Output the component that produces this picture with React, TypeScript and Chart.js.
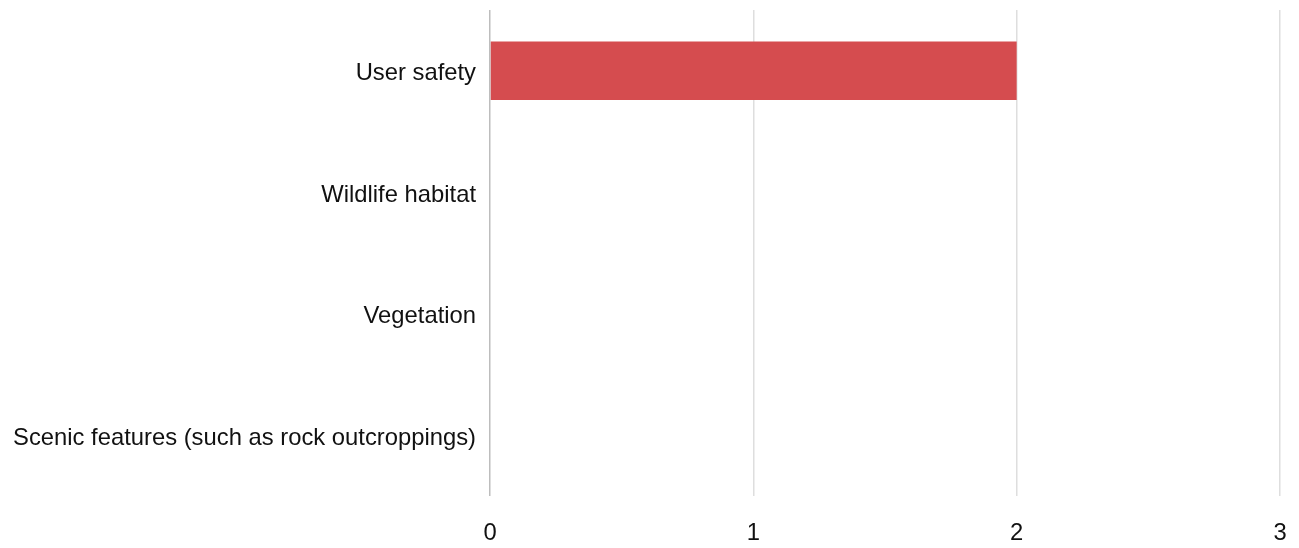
import React, { useEffect, useRef } from "react";
import { Chart, registerables } from "chart.js";

Chart.register(...registerables);

const categories = [
  "User safety",
  "Wildlife habitat",
  "Vegetation",
  "Scenic features (such as rock outcroppings)",
];
const values = [2, 0, 0, 0];
const xTicks = [0, 1, 2, 3];

export default function App() {
  const ref = useRef<HTMLCanvasElement | null>(null);
  useEffect(() => {
    if (!ref.current) return;
    const font = { family: "'Liberation Sans', Arial, sans-serif", size: 23.8 };
    const chart = new Chart(ref.current, {
      type: "bar",
      data: {
        labels: categories,
        datasets: [
          {
            data: values,
            backgroundColor: "#d54c4f",
            borderWidth: 0,
            categoryPercentage: 0.8,
            barPercentage: 0.6,
          },
        ],
      },
      options: {
        indexAxis: "y",
        animation: false,
        responsive: true,
        maintainAspectRatio: false,
        layout: { padding: { top: 10, right: 19, left: 0, bottom: 0 } },
        plugins: { legend: { display: false }, tooltip: { enabled: false } },
        scales: {
          x: {
            min: 0,
            max: 3,
            afterBuildTicks: (axis: any) => {
              axis.ticks = xTicks.map((v) => ({ value: v }));
            },
            afterFit: (axis: any) => {
              axis.height = 52;
              axis.paddingLeft = 0;
              axis.paddingRight = 0;
            },
            grid: {
              drawTicks: false,
              color: (ctx: any) => (ctx.tick && ctx.tick.value === 0 ? "#bdbdbd" : "#dedede"),
              lineWidth: 1.5,
            },
            border: { display: false },
            ticks: { color: "#111", font, padding: 23 },
          },
          y: {
            afterFit: (axis: any) => {
              axis.width = 490;
              axis.paddingTop = 0;
              axis.paddingBottom = 0;
            },
            grid: { display: false, drawTicks: false },
            border: { display: false },
            ticks: { color: "#111", font, padding: 14, labelOffset: 3 },
          },
        },
      },
    });
    return () => chart.destroy();
  }, []);
  return (
    <div style={{ position: "absolute", left: 0, top: 0, width: 1299, height: 548 }}>
      <canvas ref={ref} />
    </div>
  );
}
